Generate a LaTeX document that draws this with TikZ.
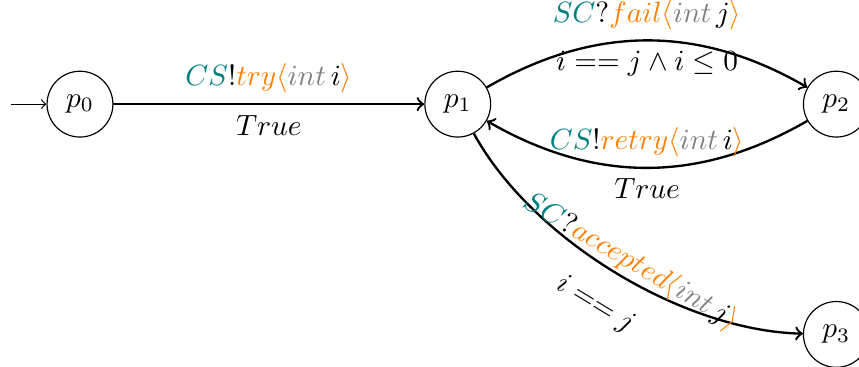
\documentclass[tikz,border=0pt]{standalone}
\usetikzlibrary{positioning}
\tikzset{state node/.style={circle,draw,minimum size=0.79cm,inner sep=0pt},
	trans/.style={draw,thick,->},
}
\newcommand{\chn}[1]{\textcolor{teal}{#1}}
\newcommand{\msg}[1]{\textcolor{orange}{#1}}
\newcommand{\typ}[1]{\textcolor{gray}{#1}}

\begin{document}
\begin{tikzpicture}
				\useasboundingbox (0,0) rectangle (10.31,-4.40);
				\node[state node] (p0) at (0.96,-1.25) {$p_0$};
				\node[state node] (p1) [right =3.73cm of p0] {$p_1$};
				\node[state node] (p2) [right =3.74cm of p1] {$p_2$};
				\node[state node] (p3) [below =1.96cm of p2] {$p_3$};
				\coordinate[left =0.43cm of p0.west] (init);
				
				\draw[->] (init) -- (p0);
				
				\path[trans]
				(p0) edge node[above] {$\chn{CS}!\msg{try\langle}\typ{int}\,i\msg{\rangle}$} node[below] {$True$} (p1)
				(p1) edge[bend left=30] node[above] {$\chn{SC}?\msg{fail\langle}\typ{int}\,j\msg{\rangle}$} node[below] {$i == j \wedge i \leq 0$} (p2)
				(p2) edge[bend left=30] node[above] {$\chn{CS}!\msg{retry\langle}\typ{int}\,i\msg{\rangle}$} node[below] {$True$} (p1)
				(p1) edge[bend right=30,looseness=0.8] node[above,sloped,pos=0.52,yshift=-3pt] {$\chn{SC}?\msg{accepted\langle}\typ{int}\,j\msg{\rangle}$} node[below,sloped,pos=0.5,yshift=-5pt] {$i == j$} (p3);
				
			\end{tikzpicture}
\end{document}
